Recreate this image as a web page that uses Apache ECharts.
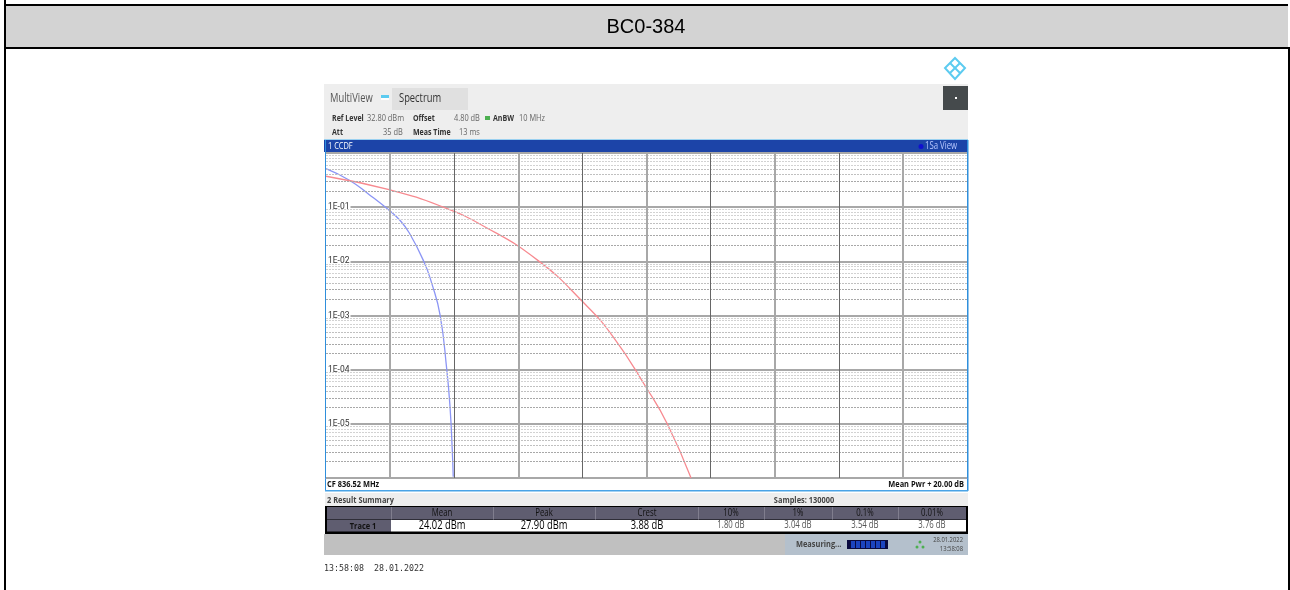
<!DOCTYPE html>
<html>
<head>
<meta charset="utf-8">
<title>BC0-384</title>
<script src="https://cdn.jsdelivr.net/npm/echarts@6/dist/echarts.min.js"></script>
<style>
  html, body { margin: 0; padding: 0; background: #fff; }
  #chart { width: 1290px; height: 590px; }
</style>
</head>
<body>
<div id="chart"></div>
<script>
// traces: x is dB above mean power, y is probability
var blueDb = [0, 0.73, 1.35, 1.97, 2.29, 2.60, 3.05, 3.30, 3.56, 3.77, 3.87, 3.94, 3.97];
var blueProb = [0.515, 0.314, 0.170, 0.0877, 0.0587, 0.0333, 0.0100, 0.00392, 0.00102, 0.000098, 0.0000205, 0.00000325, 0.00000105];
var redDb = [0, 1.97, 3.59, 4.91, 6.62, 8.01, 8.96, 10.01, 10.65, 11.39];
var redProb = [0.372, 0.210, 0.104, 0.0450, 0.0103, 0.00179, 0.000404, 0.0000449, 0.00000995, 0.000001];

var yTickLabels = ['1E-01', '1E-02', '1E-03', '1E-04', '1E-05'];
// the screenshot was scaled down, so vertical lines alternate between thick grey and thin dark
var xGridThick = [2, 6, 10, 14, 18];
var xGridThin = [4, 8, 12, 16];
var minorMantissa = [2, 3, 4, 5, 6, 7, 8, 9];
var decadeExponents = [-1, -2, -3, -4, -5, -6];

var tableHeads = ['Mean', 'Peak', 'Crest', '10%', '1%', '0.1%', '0.01%'];
var tableValues = ['24.02 dBm', '27.90 dBm', '3.88 dB', '1.80 dB', '3.04 dB', '3.54 dB', '3.76 dB'];
var tableCenters = [442, 544, 647, 731, 798, 865, 932];
var tableSeps = [391, 493, 595, 698, 764, 832, 898];

function toPairs(xs, ys) {
  var out = [];
  for (var i = 0; i < xs.length; i++) {
    out.push([xs[i], ys[i]]);
  }
  return out;
}

var gridLines = [];
decadeExponents.forEach(function (e) {
  minorMantissa.forEach(function (m) {
    var c = m <= 3 ? '#a8a8a8' : (m <= 5 ? '#c0c0c0' : '#d2d2d2');
    gridLines.push({ yAxis: m * Math.pow(10, e), lineStyle: { color: c, type: [2, 1], width: 1 } });
  });
});
xGridThick.forEach(function (v) {
  gridLines.push({ xAxis: v, lineStyle: { color: '#a8a8a8', type: 'solid', width: 2 } });
});
xGridThin.forEach(function (v) {
  gridLines.push({ xAxis: v, lineStyle: { color: '#666666', type: 'solid', width: 1 } });
});

var uiFont = '"Open Sans", "Noto Sans", sans-serif';
var shapes = [];

function box(x, y, w, h, color) {
  shapes.push({ type: 'rect', silent: true, shape: { x: x, y: y, width: w, height: h }, style: { fill: color } });
}
// instrument font is condensed and none is installed, so squeeze Open Sans sideways
function label(str, x, y, size, color, align, weight, family) {
  shapes.push({
    type: 'text', silent: true, x: x, y: y, scaleX: family ? 1 : 0.78,
    style: {
      text: str, fill: color, align: align || 'left', verticalAlign: 'middle',
      font: (weight || 'normal') + ' ' + size + 'px ' + (family || uiFont)
    }
  });
}

// page frame and heading
box(4, 0, 2, 590, '#000');
box(4, 4, 1284, 2, '#000');
box(6, 6, 1282, 41, '#d3d3d3');
box(4, 47, 1286, 2, '#000');
box(1288, 49, 2, 541, '#000');
label('BC0-384', 646, 27, 20, '#000', 'center', 'normal', '"Liberation Sans", Arial, sans-serif');

// logo
shapes.push({ type: 'polygon', silent: true, shape: { points: [[955, 58], [965, 68], [955, 79], [945, 68]] }, style: { fill: '#fff', stroke: '#5ccbf0', lineWidth: 2 } });
shapes.push({ type: 'polyline', silent: true, shape: { points: [[950, 63], [960, 73]] }, style: { stroke: '#5ccbf0', lineWidth: 2, fill: null } });
shapes.push({ type: 'polyline', silent: true, shape: { points: [[960, 63], [950, 73]] }, style: { stroke: '#5ccbf0', lineWidth: 2, fill: null } });

// instrument top panel
box(324, 84, 644, 56, '#eeeeee');
box(392, 88, 76, 22, '#e0e0e0');
box(381, 95, 8, 3, '#5ccbf0');
box(381, 98, 8, 2, '#ffffff');
box(943, 86, 25, 24, '#454a4c');
box(955, 97, 2, 2, '#ffffff');
label('MultiView', 330, 99, 12, '#555');
label('Spectrum', 399, 98.5, 12, '#333');
label('Ref Level', 332, 118, 9, '#333', 'left', 'bold');
label('32.80 dBm', 367, 118, 9.5, '#666');
label('Offset', 413, 118, 9, '#333', 'left', 'bold');
label('4.80 dB', 454, 118, 9.5, '#666');
box(485, 116, 5, 4, '#4caf50');
label('AnBW', 493, 118, 9, '#333', 'left', 'bold');
label('10 MHz', 519, 118, 9.5, '#666');
label('Att', 332, 132.5, 9, '#333', 'left', 'bold');
label('35 dB', 383, 132.5, 9.5, '#666');
label('Meas Time', 413, 132.5, 9, '#333', 'left', 'bold');
label('13 ms', 459, 132.5, 9.5, '#666');

// window title bar and frame
box(324, 139, 644, 1, '#9ad0f0');
box(324, 140, 644, 12, '#1c44a8');
box(326, 152, 641, 1, '#0a1a50');
label('1 CCDF', 328, 146, 9.5, '#fff');
shapes.push({ type: 'circle', silent: true, shape: { cx: 921, cy: 146.5, r: 2.5 }, style: { fill: '#1010d0' } });
label('1Sa View', 925, 146.5, 10, '#b8c8ff');
box(325, 140, 1, 351, '#2f8fdc');
box(967, 140, 1.5, 351, '#2f8fdc');
box(325, 490, 643, 1.5, '#49a3e6');
label('CF 836.52 MHz', 327, 484, 9.5, '#111', 'left', 'bold');
label('Mean Pwr + 20.00 dB', 964, 484, 9.5, '#111', 'right', 'bold');

// result summary
box(325, 493, 643, 13, '#eeeeee');
label('2 Result Summary', 327, 500, 9.5, '#444', 'left', 'bold');
label('Samples: 130000', 804, 500, 9.5, '#444', 'center', 'bold');
box(325, 506, 643, 28, '#000');
box(327, 507, 639, 12.5, '#5f5d70');
box(327, 520, 64, 11.5, '#5f5d70');
box(391, 520, 575, 11.5, '#ffffff');
tableSeps.forEach(function (x) {
  box(x, 507, 1, 12.5, '#807e8e');
});
label('Trace 1', 363, 526, 9.5, '#111', 'center', 'bold');
tableHeads.forEach(function (h, i) {
  label(h, tableCenters[i], 513.5, 10, '#111', 'center');
});
tableValues.forEach(function (v, i) {
  label(v, tableCenters[i], 525.5, i < 3 ? 12 : 10, i < 3 ? '#000' : '#555', 'center');
});

// status bar
box(324, 534, 461, 21, '#c0c0c0');
box(785, 534, 183, 21, '#b4c0cc');
label('Measuring...', 796, 544, 9.5, '#444', 'left', 'bold');
box(847, 540, 41, 9, '#0a0a40');
for (var s = 0; s < 7; s++) {
  box(851 + s * 5, 541, 4, 7, '#1c44c0');
}
label('28.01.2022', 963, 540, 7.5, '#444', 'right');
label('13:58:08', 963, 549, 7.5, '#444', 'right');
shapes.push({ type: 'circle', silent: true, shape: { cx: 920, cy: 542, r: 1.5 }, style: { fill: '#4caf50' } });
shapes.push({ type: 'circle', silent: true, shape: { cx: 917, cy: 547, r: 1.5 }, style: { fill: '#4caf50' } });
shapes.push({ type: 'circle', silent: true, shape: { cx: 923, cy: 547, r: 1.5 }, style: { fill: '#4caf50' } });

label('13:58:08  28.01.2022', 324, 569, 8.3, '#333', 'left', 'normal', '"DejaVu Sans Mono", monospace');

var chart = echarts.init(document.getElementById('chart'));

var option = {
  animation: false,
  backgroundColor: '#ffffff',
  graphic: { elements: shapes },
  grid: { left: 326, right: 323, top: 153, bottom: 112, show: false },
  xAxis: {
    type: 'value',
    min: 0,
    max: 20,
    interval: 2,
    axisLabel: { show: false },
    axisTick: { show: false },
    axisLine: { show: true, onZero: false, lineStyle: { color: '#8a9cff', width: 1 } },
    splitLine: { show: false }
  },
  yAxis: {
    type: 'log',
    logBase: 10,
    min: 0.000001,
    max: 1,
    z: 2,
    axisTick: { show: false },
    axisLine: { show: false },
    splitLine: { show: true, lineStyle: { color: '#a8a8a8', width: 2 } },
    axisLabel: {
      inside: true,
      margin: 0,
      color: '#333',
      fontFamily: 'Roboto, sans-serif',
      fontSize: 8.5,
      backgroundColor: '#ffffff',
      padding: [0, 1, 0, 2],
      formatter: function (val) {
        var e = Math.round(Math.log(val) / Math.LN10);
        return yTickLabels[-e - 1] || '';
      }
    }
  },
  series: [
    {
      name: 'grid',
      type: 'line',
      z: 1,
      data: [],
      silent: true,
      // markLine rounds to 2 decimals unless precision is raised, that drops the low decades
      markLine: { silent: true, symbol: 'none', precision: 20, animation: false, label: { show: false }, data: gridLines }
    },
    {
      name: 'Trace 1',
      type: 'line',
      z: 3,
      data: toPairs(blueDb, blueProb),
      smooth: 0.5,
      showSymbol: false,
      lineStyle: { color: '#8b95f5', width: 1.3 }
    },
    {
      name: 'Gauss',
      type: 'line',
      z: 3,
      data: toPairs(redDb, redProb),
      smooth: 0.5,
      showSymbol: false,
      lineStyle: { color: '#f78a90', width: 1.3 }
    }
  ]
};

chart.setOption(option);
window.addEventListener('resize', function () {
  chart.resize();
});
</script>
</body>
</html>
